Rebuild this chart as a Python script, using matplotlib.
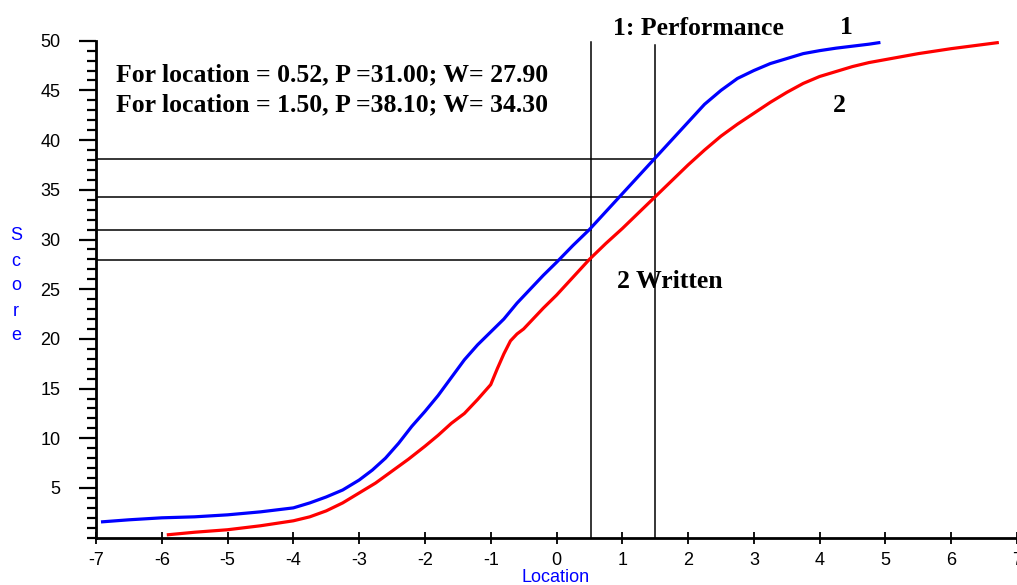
import matplotlib

matplotlib.use("Agg")
import matplotlib.pyplot as plt  # noqa: E402
from matplotlib.ticker import MultipleLocator  # noqa: E402

# curve 1: Performance (blue), curve 2: Written (red)
perf_loc = [-6.9, -6.5, -6.0, -5.5, -5.0, -4.5, -4.0, -3.75, -3.5, -3.25, -3.0, -2.8,
            -2.6, -2.4, -2.2, -2.0, -1.8, -1.6, -1.4, -1.2, -1.0, -0.8, -0.6, -0.4,
            -0.2, 0.0, 0.25, 0.5, 0.75, 1.0, 1.25, 1.5, 1.75, 2.0, 2.25, 2.5, 2.75,
            3.0, 3.25, 3.5, 3.75, 4.0, 4.25, 4.5, 4.75, 4.9]
perf_score = [1.6, 1.8, 2.0, 2.1, 2.3, 2.6, 3.0, 3.5, 4.1, 4.8, 5.8, 6.8,
              8.0, 9.5, 11.2, 12.7, 14.3, 16.1, 17.9, 19.4, 20.7, 22.0, 23.6, 25.0,
              26.4, 27.7, 29.4, 31.0, 32.8, 34.6, 36.4, 38.2, 40.0, 41.8, 43.6, 45.0, 46.2,
              47.0, 47.7, 48.2, 48.7, 49.0, 49.25, 49.45, 49.65, 49.8]

writ_loc = [-5.9, -5.5, -5.0, -4.5, -4.0, -3.75, -3.5, -3.25, -3.0, -2.75, -2.5, -2.25,
            -2.0, -1.8, -1.6, -1.4, -1.2, -1.0, -0.9, -0.8, -0.7, -0.6, -0.5, -0.4,
            -0.2, 0.0, 0.25, 0.5, 0.75, 1.0, 1.25, 1.5, 1.75, 2.0, 2.25, 2.5, 2.75,
            3.0, 3.25, 3.5, 3.75, 4.0, 4.25, 4.5, 4.75, 5.0, 5.5, 6.0, 6.35, 6.7]
writ_score = [0.3, 0.55, 0.8, 1.2, 1.7, 2.1, 2.7, 3.5, 4.5, 5.5, 6.7, 7.9,
              9.2, 10.3, 11.5, 12.5, 13.9, 15.4, 17.0, 18.5, 19.8, 20.5, 21.0, 21.7,
              23.1, 24.4, 26.2, 28.0, 29.6, 31.1, 32.7, 34.3, 35.9, 37.5, 39.0, 40.4, 41.6,
              42.7, 43.8, 44.8, 45.7, 46.4, 46.9, 47.4, 47.8, 48.1, 48.7, 49.2, 49.5, 49.8]

# cut-off locations and the scores read at them
cut_loc = [0.52, 1.50]
cut_p = [31.00, 38.10]
cut_w = [27.90, 34.30]
cut_top = [49.9, 49.6]

xticks = list(range(-7, 8))
yticks = [5, 10, 15, 20, 25, 30, 35, 40, 45, 50]

fig = plt.figure(figsize=(10.17, 5.85), dpi=100)
ax = fig.add_axes([96 / 1017, 47.3 / 585, 921 / 1017, 497 / 585])

ax.plot(perf_loc, perf_score, color="#0000ff", lw=2.3, zorder=3)
ax.plot(writ_loc, writ_score, color="#ff0000", lw=2.3, zorder=3)

for loc, p, w, top in zip(cut_loc, cut_p, cut_w, cut_top):
    ax.plot([loc, loc], [0, top], color="black", lw=1.1, clip_on=False)
    ax.plot([-7, loc], [p, p], color="black", lw=1.1)
    ax.plot([-7, loc], [w, w], color="black", lw=1.1)

ax.set_xlim(-7, 7)
ax.set_ylim(0, 50)
ax.spines["top"].set_visible(False)
ax.spines["right"].set_visible(False)
ax.spines["left"].set_linewidth(2)
ax.spines["bottom"].set_linewidth(2)

ax.set_xticks(xticks)
ax.set_xticklabels([str(t) for t in xticks])
ax.set_yticks(yticks)
ax.set_yticklabels([str(t) for t in yticks])
ax.yaxis.set_minor_locator(MultipleLocator(1))
ax.tick_params(axis="x", direction="inout", length=9, width=1.3, pad=6,
               labelsize=13, labelfontfamily="Liberation Sans")
ax.tick_params(axis="y", which="major", direction="out", length=12.5, width=1.6,
               pad=13, labelsize=13, labelfontfamily="Liberation Sans")
ax.tick_params(axis="y", which="minor", direction="out", length=6.5, width=1.6)

serif = dict(family="Liberation Serif", weight="bold", fontsize=18.5, color="black")
for i, (loc, p, w) in enumerate(zip(cut_loc, cut_p, cut_w)):
    ax.text(-6.69, 46.55 - 3.05 * i,
            f"For location = {loc:.2f}, P ={p:.2f}; W= {w:.2f}",
            ha="left", va="center", **serif)
ax.text(0.86, 51.2, "1: Performance", ha="left", va="center", clip_on=False, **serif)
ax.text(4.40, 51.3, "1", ha="center", va="center", clip_on=False, **serif)
ax.text(4.30, 43.5, "2", ha="center", va="center", **serif)
ax.text(0.92, 25.8, "2 Written", ha="left", va="center", **serif)

for i, ch in enumerate("Score"):
    fig.text(16 / 1017, 1 - (236 + 25 * i) / 585, ch, color="#0000ff",
             ha="center", va="center", fontsize=13, family="Liberation Sans")
fig.text(556 / 1017, 1 - 578 / 585, "Location", color="#0000ff",
         ha="center", va="center", fontsize=13, family="Liberation Sans")

fig.savefig("out.png", dpi=100, facecolor="white")
